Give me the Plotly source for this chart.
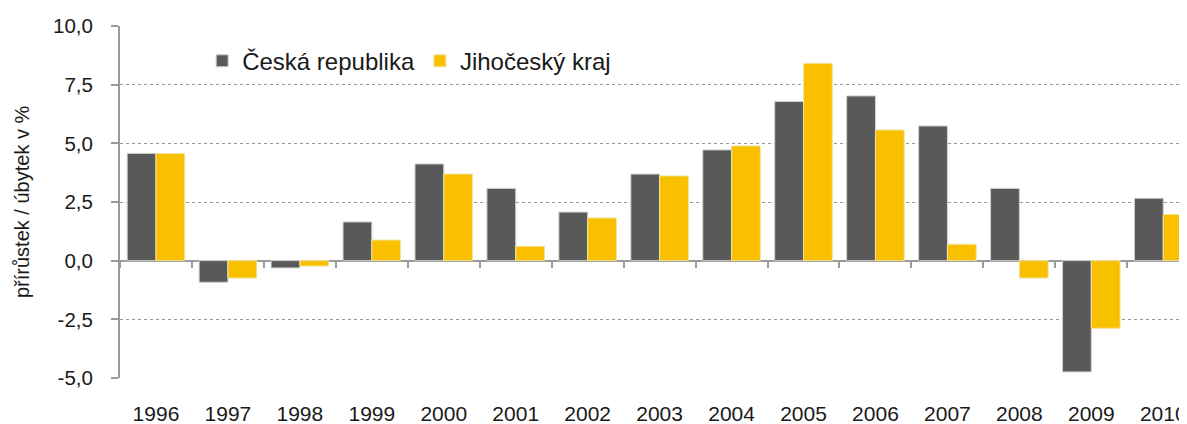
import plotly.graph_objects as go

years = ["1996", "1997", "1998", "1999", "2000", "2001", "2002", "2003",
         "2004", "2005", "2006", "2007", "2008", "2009", "2010"]
cr_values = [4.57, -0.92, -0.31, 1.65, 4.12, 3.08, 2.07, 3.69,
             4.72, 6.78, 7.02, 5.74, 3.08, -4.74, 2.66]
jk_values = [4.57, -0.74, -0.23, 0.88, 3.69, 0.61, 1.82, 3.61,
             4.89, 8.41, 5.57, 0.70, -0.74, -2.88, 1.97]
y_tick_values = [-5, -2.5, 0, 2.5, 5, 7.5, 10]
y_tick_labels = ["-5,0", "-2,5", "0,0", "2,5", "5,0", "7,5", "10,0"]
y_title = "přírůstek / úbytek v %"

FONT = "Liberation Sans, Arial, sans-serif"
TEXT = "#1a1a1a"
GREY = "#9a9a9a"

fig = go.Figure()
fig.add_trace(go.Bar(
    x=years, y=cr_values, name="Česká republika",
    marker=dict(color="#595959", line=dict(color="#d0d0d0", width=1)),
))
fig.add_trace(go.Bar(
    x=years, y=jk_values, name="Jihočeský kraj",
    marker=dict(color="#F9C000", line=dict(color="#f2e2a0", width=1)),
))
# invisible helper trace so that the zero-level axis with boundary ticks is drawn
fig.add_trace(go.Scatter(
    x=years, y=cr_values, xaxis="x2", mode="markers",
    marker=dict(opacity=0), showlegend=False, hoverinfo="skip",
))

# the page body has an 8px default margin, so the figure is sized to fit
xrange = [-0.5, 14.33]
fig.update_layout(
    width=1179, height=416,
    margin=dict(l=112, r=0, t=18, b=46, autoexpand=False),
    plot_bgcolor="white", paper_bgcolor="white",
    barmode="group", bargap=0.2, bargroupgap=0,
    font=dict(family=FONT, color=TEXT),
    showlegend=True,
    legend=dict(
        orientation="h", x=0.077, y=0.90, xanchor="left", yanchor="middle",
        font=dict(size=24, family=FONT, color=TEXT),
        bgcolor="rgba(0,0,0,0)", traceorder="normal",
    ),
    xaxis=dict(
        type="category", range=xrange, showgrid=False, zeroline=False,
        showline=False, ticks="", tickfont=dict(size=21, color=TEXT),
        ticklabelstandoff=21, automargin=False,
    ),
    xaxis2=dict(
        type="category", overlaying="x", anchor="free", position=5 / 15,
        range=xrange, showgrid=False, zeroline=False, showline=False,
        ticks="outside", tickson="boundaries", ticklen=6, tickwidth=1.5,
        tickcolor=GREY, showticklabels=False, automargin=False,
    ),
    yaxis=dict(
        range=[-5, 10], tickvals=y_tick_values, ticktext=y_tick_labels,
        tickfont=dict(size=20.5, color=TEXT),
        showgrid=True, gridcolor="#9a9a9a", griddash="dot", gridwidth=1,
        zeroline=True, zerolinecolor=GREY, zerolinewidth=2,
        showline=True, linecolor=GREY, linewidth=2,
        ticks="outside", ticklen=7, tickcolor=GREY, tickwidth=1.5,
        ticklabelstandoff=14, automargin=False,
    ),
    annotations=[dict(
        text=y_title, textangle=-90, xref="paper", yref="paper",
        x=0, y=0.5, xanchor="center", yanchor="middle", xshift=-98,
        showarrow=False, font=dict(size=20, color=TEXT, family=FONT),
    )],
)

fig.write_html("out.html")
